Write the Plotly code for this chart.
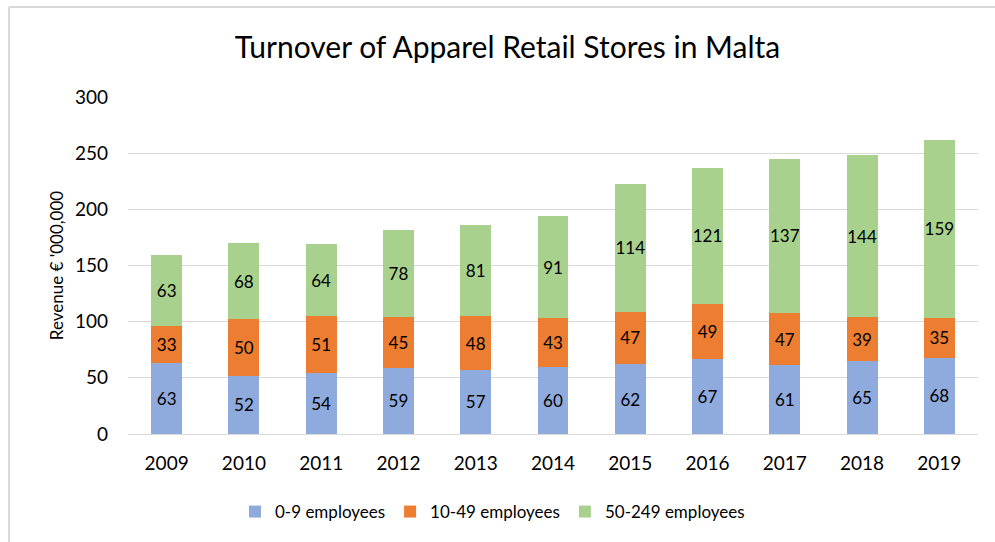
import plotly.graph_objects as go

years = ["2009", "2010", "2011", "2012", "2013", "2014", "2015", "2016", "2017", "2018", "2019"]
small = [63, 52, 54, 59, 57, 60, 62, 67, 61, 65, 68]
medium = [33, 50, 51, 45, 48, 43, 47, 49, 47, 39, 35]
large = [63, 68, 64, 78, 81, 91, 114, 121, 137, 144, 159]

series_names = ["0-9 employees", "10-49 employees", "50-249 employees"]
colors = ["#8faadc", "#ed7d31", "#a9d18e"]

FONT = "Lato, 'Open Sans', sans-serif"

fig = go.Figure()
for name, vals, col in zip(series_names, [small, medium, large], colors):
    fig.add_trace(go.Bar(
        x=years, y=vals, name=name, marker_color=col, marker_line_width=0,
        text=[str(v) for v in vals], textposition="inside", insidetextanchor="middle",
        textangle=0,
        textfont=dict(size=17, color="#000000", family=FONT),
        constraintext="none",
    ))

L, R, T, B = 128, 17, 97, 108
W, H = 995, 542
pw, ph = W - L - R, H - T - B

def px_to_paper_x(px):
    return (px - L) / pw

def px_to_paper_y(py):
    return (H - B - py) / ph

fig.update_layout(
    width=W, height=H,
    barmode="stack", bargap=0.6,
    margin=dict(l=L, r=R, t=T, b=B, autoexpand=False),
    paper_bgcolor="white", plot_bgcolor="white",
    font=dict(family=FONT, color="#000000"),
    title=dict(text="Turnover of Apparel Retail Stores in Malta", x=0.51, xanchor="center",
               y=1 - 47 / H, yanchor="middle", font=dict(size=30, color="#000000", family=FONT)),
    xaxis=dict(tickfont=dict(size=19, color="#000000"), showgrid=False, showline=True,
               linecolor="#d9d9d9", linewidth=1, ticks="", ticklabelstandoff=12),
    yaxis=dict(range=[0, 300], dtick=50, tickfont=dict(size=19, color="#000000"),
               showgrid=True, gridcolor="#d9d9d9", gridwidth=1, zeroline=False,
               title=dict(text="Revenue € '000,000", font=dict(size=17, color="#000000"), standoff=6),
               ticklabelstandoff=19),
    legend=dict(orientation="h", x=px_to_paper_x(235), xanchor="left", y=px_to_paper_y(512), yanchor="middle",
                font=dict(size=17, color="#000000"), traceorder="normal", itemwidth=30),
    uniformtext=dict(minsize=8, mode="show"),
    shapes=[
        dict(type="line", xref="paper", yref="paper", x0=px_to_paper_x(9), x1=px_to_paper_x(1000),
             y0=px_to_paper_y(7), y1=px_to_paper_y(7), line=dict(color="#d9d9d9", width=2)),
        dict(type="line", xref="paper", yref="paper", x0=px_to_paper_x(9), x1=px_to_paper_x(9),
             y0=px_to_paper_y(7), y1=px_to_paper_y(545), line=dict(color="#d9d9d9", width=2)),
    ],
)

fig.write_html("out.html", config={"displayModeBar": False},
               post_script="document.body.style.margin='0px';document.body.style.padding='0px';")
